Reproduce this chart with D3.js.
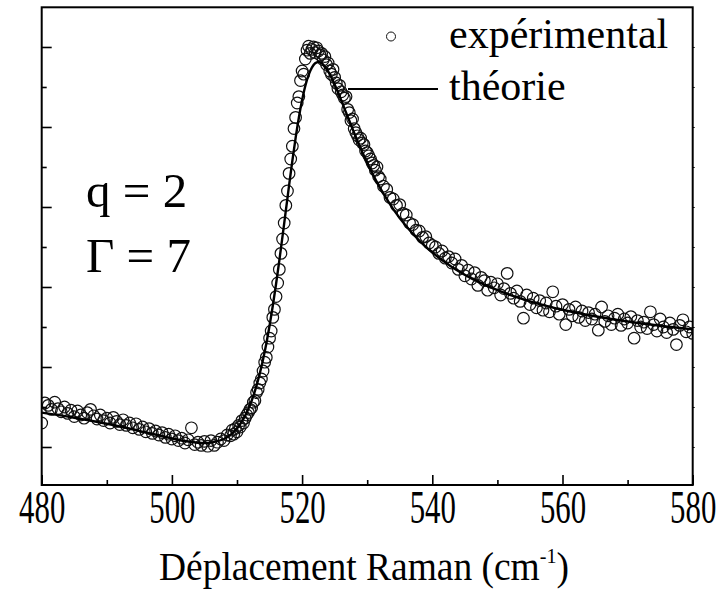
<!DOCTYPE html>
<html><head><meta charset="utf-8">
<script src="https://cdn.jsdelivr.net/npm/d3@7"></script>
<style>body{margin:0;background:#fff} svg{display:block}</style>
</head><body><svg id="c" width="723" height="606"></svg>
<script>
// ---- data ----
const xTicks = [480, 500, 520, 540, 560, 580];
const xMinorTicks = [490, 510, 530, 550, 570];
const yTicks = [1, 2, 3, 4, 5, 6];
const yMinorTicks = [1.5, 2.5, 3.5, 4.5, 5.5];
const xDomain = [480, 580];
const yDomain = [0.525, 6.496];
const xTitle = "Déplacement Raman (cm";
const xTitleSup = "-1";
const params = ["q = 2", "Γ = 7"];
const legendLabels = ["expérimental", "théorie"];

const theoryX = [480,485,490,495,500,502,504,505,506,508,509,509.5,510,510.5,511,511.5,512,512.5,513,513.5,514,514.5,515,515.5,516,516.5,517,517.5,518,518.5,519,519.5,520,520.5,521,521.5,522,522.5,523,523.5,524,524.5,525,525.5,526,527,528,529,530,531,532,534,536,538,540,543,546,550,555,560,565,570,575,580];
const theoryY = [1.429,1.366,1.291,1.202,1.108,1.075,1.053,1.050,1.054,1.100,1.152,1.188,1.233,1.288,1.354,1.432,1.526,1.637,1.767,1.918,2.093,2.291,2.515,2.765,3.037,3.330,3.638,3.954,4.270,4.575,4.860,5.116,5.336,5.515,5.651,5.743,5.796,5.813,5.798,5.757,5.696,5.620,5.532,5.437,5.336,5.130,4.926,4.732,4.552,4.386,4.235,3.973,3.758,3.580,3.431,3.251,3.108,2.960,2.821,2.715,2.634,2.568,2.515,2.470];

const expX = [480,480.5,481,481.5,482,482.5,483,483.5,484,484.5,485,485.5,486,486.5,487,487.5,488,488.5,489,489.5,490,490.5,491,491.5,492,492.5,493,493.5,494,494.5,495,495.5,496,496.5,497,497.5,498,498.5,499,499.5,500,500.5,501,501.5,502,502.5,503,503.5,504,504.5,505,505.5,506,506.5,507,507.5,508,508.5,
509,509.25,509.5,509.75,510,510.25,510.5,510.75,511,511.25,511.5,511.75,512,512.25,512.5,512.75,513,513.25,513.5,513.75,514,514.25,514.5,514.75,515,515.25,515.5,515.75,516,516.25,516.5,516.75,517,517.25,517.5,517.75,518,518.25,518.5,518.75,519,519.25,519.5,519.75,520,520.25,520.5,520.75,521,521.25,521.5,521.75,522,522.25,522.5,522.75,523,523.25,523.5,523.75,524,524.25,524.5,524.75,525,525.25,525.5,525.75,526,526.25,526.5,526.75,527,527.25,527.5,527.75,528,528.25,528.5,528.75,529,529.25,529.5,529.75,530,530.25,530.5,530.75,531,531.25,531.5,531.75,532,
532.5,533,533.5,534,534.5,535,535.5,536,536.5,537,537.5,538,538.5,539,539.5,540,540.5,541,541.5,542,542.5,543,543.5,544,544.5,545,545.5,546,546.5,547,547.5,548,548.5,549,549.5,550,550.5,551,551.5,552,552.5,553,553.5,554,554.5,555,555.5,556,556.5,557,557.5,558,558.5,559,559.5,560,560.5,561,561.5,562,562.5,563,563.5,564,564.5,565,565.5,566,566.5,567,567.5,568,568.5,569,569.5,570,570.5,571,571.5,572,572.5,573,573.5,574,574.5,575,575.5,576,576.5,577,577.5,578,578.5,579,579.5,580];
const expY = [1.30,1.55,1.52,1.47,1.56,1.48,1.44,1.50,1.42,1.46,1.38,1.45,1.40,1.36,1.43,1.47,1.39,1.35,1.40,1.33,1.36,1.30,1.37,1.32,1.28,1.34,1.27,1.30,1.24,1.29,1.22,1.25,1.19,1.23,1.17,1.20,1.15,1.18,1.12,1.16,1.10,1.14,1.08,1.11,1.05,1.09,1.24,1.03,1.06,1.02,1.07,1.01,1.08,1.02,1.06,1.10,1.08,1.15,
1.14,1.21,1.16,1.23,1.19,1.27,1.25,1.33,1.30,1.36,1.40,1.43,1.47,1.49,1.56,1.58,1.68,1.72,1.80,1.85,1.95,2.06,2.12,2.25,2.36,2.45,2.62,2.72,2.88,3.05,3.22,3.42,3.60,3.80,4.02,4.20,4.42,4.60,4.76,4.98,5.12,5.30,5.38,5.58,5.70,5.66,5.85,5.96,6.01,5.92,5.97,6.00,5.93,5.99,5.95,5.90,5.92,5.84,5.88,5.78,5.80,5.70,5.66,5.72,5.62,5.55,5.48,5.52,5.44,5.40,5.36,5.38,5.22,5.18,5.08,5.10,4.98,4.93,4.89,4.84,4.86,4.80,4.78,4.70,4.68,4.64,4.60,4.55,4.52,4.46,4.50,4.38,4.35,
4.26,4.22,4.12,4.10,4.02,4.03,3.92,3.90,3.80,3.78,3.71,3.70,3.62,3.63,3.55,3.52,3.50,3.42,3.45,3.36,3.38,3.30,3.35,3.22,3.27,3.14,3.21,3.10,3.18,3.02,3.12,3.08,2.96,3.06,2.99,3.04,2.90,2.98,3.17,2.92,2.86,2.95,2.82,2.61,2.90,2.78,2.86,2.74,2.83,2.71,2.80,2.69,2.94,2.76,2.66,2.78,2.53,2.72,2.64,2.75,2.62,2.70,2.58,2.68,2.60,2.66,2.46,2.75,2.57,2.64,2.53,2.61,2.66,2.52,2.60,2.55,2.63,2.36,2.58,2.50,2.56,2.48,2.69,2.53,2.45,2.60,2.50,2.43,2.55,2.47,2.28,2.52,2.59,2.44,2.50,2.42];

// ---- drawing ----
const FONT = "'Liberation Serif','Times New Roman',Times,serif";
const svg = d3.select("#c");
const P = {left: 41.7, right: 692.7, top: 7.3, bottom: 485};
const x = d3.scaleLinear().domain(xDomain).range([P.left, P.right]);
const y = d3.scaleLinear().domain(yDomain).range([P.bottom, P.top]);

svg.append("defs").append("clipPath").attr("id", "plotclip")
  .append("rect").attr("x", P.left).attr("y", P.top)
  .attr("width", P.right - P.left).attr("height", P.bottom - P.top);

// experimental points
const pts = expX.map((v, i) => [v, expY[i]]);
svg.append("g").attr("clip-path", "url(#plotclip)")
  .selectAll("circle").data(pts).join("circle")
  .attr("cx", d => x(d[0])).attr("cy", d => y(d[1])).attr("r", 5.8)
  .attr("fill", "none").attr("stroke", "#111").attr("stroke-width", 1.2);

// theory curve
const tpts = theoryX.map((v, i) => [v, theoryY[i]]);
svg.append("path").datum(tpts)
  .attr("clip-path", "url(#plotclip)")
  .attr("fill", "none").attr("stroke", "#000").attr("stroke-width", 2.4)
  .attr("d", d3.line().x(d => x(d[0])).y(d => y(d[1])).curve(d3.curveCatmullRom.alpha(0.5)));

// axes
function styleAxis(g) {
  g.select(".domain").remove();
  g.selectAll(".tick line").attr("stroke", "#000").attr("stroke-width", 1.6);
}
const gxMajor = svg.append("g").attr("transform", `translate(0,${P.bottom})`)
  .call(d3.axisBottom(x).tickValues(xTicks).tickSize(-10).tickFormat(d3.format("d")));
styleAxis(gxMajor);
gxMajor.selectAll(".tick text")
  .attr("y", 38).attr("dy", null)
  .attr("font-family", FONT).attr("font-size", 46).attr("fill", "#000")
  .attr("transform", "scale(0.67,1)");
const gxMinor = svg.append("g").attr("transform", `translate(0,${P.bottom})`)
  .call(d3.axisBottom(x).tickValues(xMinorTicks).tickSize(-5).tickFormat(""));
styleAxis(gxMinor);

const gyMajor = svg.append("g").attr("transform", `translate(${P.left},0)`)
  .call(d3.axisLeft(y).tickValues(yTicks).tickSize(-10).tickFormat(""));
styleAxis(gyMajor);
const gyMinor = svg.append("g").attr("transform", `translate(${P.left},0)`)
  .call(d3.axisLeft(y).tickValues(yMinorTicks).tickSize(-5).tickFormat(""));
styleAxis(gyMinor);
const gyRight = svg.append("g").attr("transform", `translate(${P.right},0)`)
  .call(d3.axisRight(y).tickValues(yTicks.concat(yMinorTicks)).tickSize(2).tickFormat(""));
styleAxis(gyRight);
gyRight.selectAll(".tick line").attr("stroke-width", 1);

// frame
svg.append("rect").attr("x", P.left).attr("y", P.top)
  .attr("width", P.right - P.left).attr("height", P.bottom - P.top)
  .attr("fill", "none").attr("stroke", "#000").attr("stroke-width", 2);

// x title
const title = svg.append("text").attr("font-family", FONT).attr("font-size", 41)
  .attr("text-anchor", "middle").attr("fill", "#000");
title.append("tspan").text(xTitle);
title.append("tspan").attr("font-size", 22).attr("dy", -17).text(xTitleSup);
title.append("tspan").attr("dy", 17).text(")");
const tw = title.node().getComputedTextLength();
title.attr("transform", `translate(364,580) scale(${410 / tw},1)`);

// parameters
params.forEach((t, i) => {
  svg.append("text").attr("x", 86).attr("y", 207 + i * 65)
    .attr("font-family", FONT).attr("font-size", 49).attr("fill", "#000").text(t);
});

// legend
svg.append("circle").attr("cx", 391).attr("cy", 36.5).attr("r", 4.5)
  .attr("fill", "none").attr("stroke", "#111").attr("stroke-width", 1);
svg.append("line").attr("x1", 348).attr("x2", 438).attr("y1", 89).attr("y2", 89)
  .attr("stroke", "#000").attr("stroke-width", 2);
legendLabels.forEach((t, i) => {
  svg.append("text").attr("x", 449).attr("y", 48 + i * 52)
    .attr("font-family", FONT).attr("font-size", 42).attr("fill", "#000").text(t);
});
</script>
</body></html>
